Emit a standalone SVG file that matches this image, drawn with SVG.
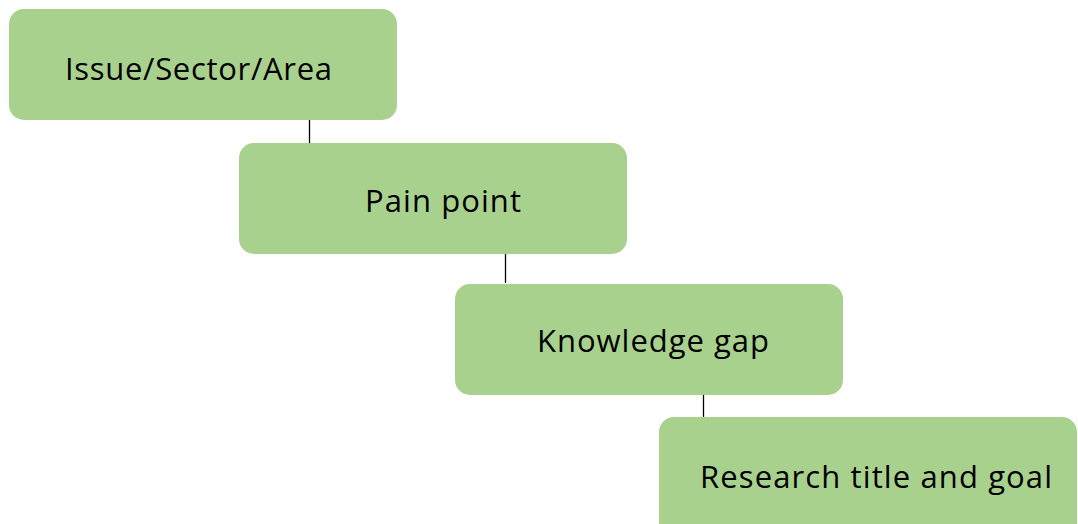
<svg xmlns="http://www.w3.org/2000/svg" width="1078" height="524" viewBox="0 0 1078 524">
<style>
.box{fill:#a9d18e;}
.lbl{font-family:"Open Sans","Noto Sans",sans-serif;font-size:31px;fill:#000;text-anchor:middle;}
.conn line{stroke:#000;stroke-width:1.3;}
</style>
<rect width="1078" height="524" fill="#fff"/>
<g class="conn" id="connectors">
<line x1="309.5" y1="120" x2="309.5" y2="143"/>
<line x1="505.5" y1="254" x2="505.5" y2="283"/>
<line x1="703.5" y1="395" x2="703.5" y2="417"/>
</g>
<g id="n1"><rect class="box" x="9" y="9" width="388" height="111" rx="15"/><text class="lbl" x="198.5" y="80" textLength="267">Issue/Sector/Area</text></g>
<g id="n2"><rect class="box" x="239" y="143" width="388" height="111" rx="15"/><text class="lbl" x="443" y="212" textLength="156">Pain point</text></g>
<g id="n3"><rect class="box" x="455" y="284" width="388" height="111" rx="15"/><text class="lbl" x="653" y="352" textLength="232">Knowledge gap</text></g>
<g id="n4"><rect class="box" x="659" y="417" width="418" height="130" rx="15"/><text class="lbl" x="876" y="488" textLength="352">Research title and goal</text></g>
</svg>
